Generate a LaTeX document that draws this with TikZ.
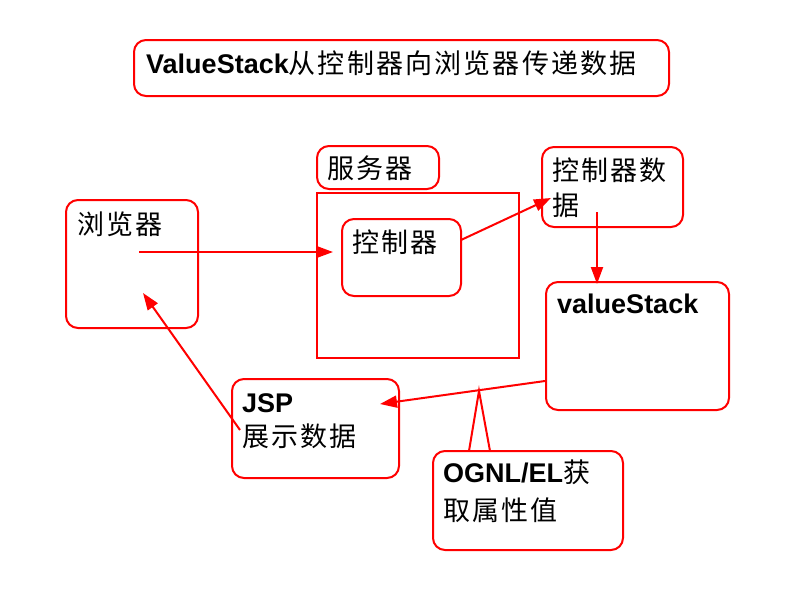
\documentclass[tikz,border=0pt]{standalone}
\usepackage{fontspec}
\setmainfont{Liberation Sans}
\newfontfamily\cjk[LetterSpace=8]{Noto Sans CJK SC}
\usetikzlibrary{arrows.meta}
\definecolor{lred}{RGB}{255,0,0}
\begin{document}
\begin{tikzpicture}[x=1pt,y=-1pt,
  box/.style={draw=lred,line width=2pt,rounded corners=12pt,fill=white,inner sep=0pt,anchor=north west},
  sqbox/.style={draw=lred,line width=2pt,fill=white,inner sep=0pt,anchor=north west},
  txt/.style={anchor=base west,inner sep=0pt,font=\fontsize{27}{34}\selectfont},
  arr/.style={draw=lred,line width=2pt,-{Triangle[length=17pt,width=12pt]}},
  line/.style={draw=lred,line width=2pt}]
\useasboundingbox[fill=white] (0,0) rectangle (800,600);
% boxes
\node[box,minimum width=535pt,minimum height=56pt] (title) at (133,39) {};
\node[box,minimum width=132pt,minimum height=128pt] (browser) at (65,199) {};
\node[box,minimum width=122pt,minimum height=43pt] (srvlabel) at (316,145) {};
\node[sqbox,minimum width=202pt,minimum height=165pt] (server) at (316,192) {};
\node[box,minimum width=119pt,minimum height=77pt] (ctrl) at (341,218) {};
\node[box,minimum width=141pt,minimum height=80pt] (ctrldata) at (541,146) {};
\node[box,minimum width=183pt,minimum height=128pt] (vs) at (545,281) {};
\node[box,minimum width=167pt,minimum height=99pt] (jsp) at (231,378) {};
\node[box,minimum width=190pt,minimum height=99pt] (ognl) at (432,450) {};
% texts
\node[txt] (titletxt) at (146,73) {\bfseries ValueStack{\mdseries\cjk 从控制器向浏览器传递数据}};
\node[txt] (browsertxt) at (77,234) {\cjk 浏览器};
\node[txt] (srvtxt) at (327,178) {\cjk 服务器};
\node[txt] (ctrltxt) at (352,252) {\cjk 控制器};
\node[txt] (cdtxt1) at (552,180) {\cjk 控制器数};
\node[txt] (cdtxt2) at (552,215) {\cjk 据};
\node[txt] (vstxt) at (557,313) {\bfseries valueStack};
\node[txt] (jsptxt1) at (242,412) {\bfseries JSP};
\node[txt] (jsptxt2) at (242,446) {\cjk 展示数据};
\node[txt] (ognltxt1) at (443,482) {\bfseries OGNL/EL{\mdseries\cjk 获}};
\node[txt] (ognltxt2) at (443,520) {\cjk 取属性值};
% connector end points
\coordinate (a1s) at (139,252);
\coordinate (a1e) at (333,252);
\coordinate (a2s) at (461,240);
\coordinate (a2e) at (551,198);
\coordinate (a3s) at (597,212);
\coordinate (a3e) at (597,284);
\coordinate (a4s) at (545,381);
\coordinate (a4e) at (380,404);
\coordinate (a5s) at (240,430);
\coordinate (a5e) at (143,293);
\coordinate (ptip) at (479,391);
\coordinate (pl) at (469,451);
\coordinate (pr) at (490,451);
% arrows
\draw[arr] (a1s) -- (a1e);
\draw[arr] (a2s) -- (a2e);
\draw[arr] (a3s) -- (a3e);
\draw[arr] (a4s) -- (a4e);
\draw[arr] (a5s) -- (a5e);
% callout pointer
\fill[white] ([xshift=1pt,yshift=1.5pt]pl) -- ([yshift=2pt]ptip) -- ([xshift=-1pt,yshift=1.5pt]pr) -- cycle;
\draw[line,line join=miter] (pl) -- (ptip) -- (pr);
\end{tikzpicture}
\end{document}
